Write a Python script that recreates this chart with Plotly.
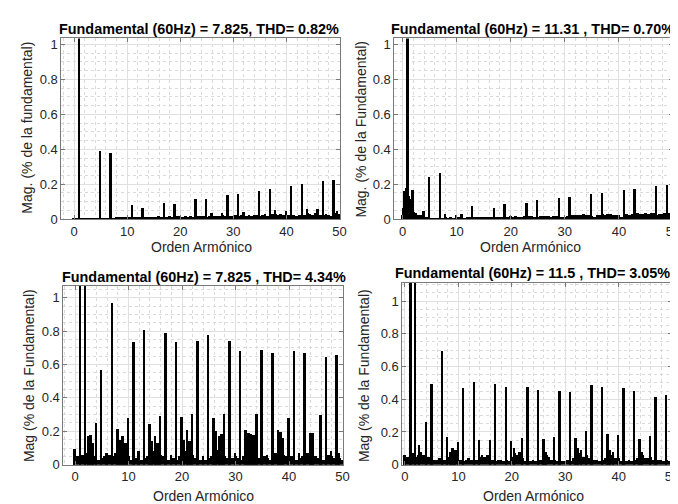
import numpy as np
import plotly.graph_objects as go

# ---------------- data (harmonic order vs magnitude, % of fundamental) ----------------
titles = [
    "Fundamental (60Hz) = 7.825, THD= 0.82%",
    "Fundamental (60Hz) = 11.31 , THD= 0.70%",
    "Fundamental (60Hz) = 7.825 , THD= 4.34%",
    "Fundamental (60Hz) = 11.5 , THD= 3.05%",
]
ylabels = [
    "Mag. (% de la fundamental)",
    "Mag. (% de la Fundamental)",
    "Mag (% de la Fundamental)",
    "Mag (% de la Fundamental)",
]
xlabel = "Orden Armónico"

# base (noise floor) sampled every 0.5 harmonic order, 0..50
base_tl = [0.004, 0.002, 0.002, 0.002, 0.003, 0.002, 0.002, 0.002, 0.003, 0.002,
           0.003, 0.002, 0.002, 0.003, 0.003, 0.004, 0.006, 0.005, 0.006, 0.005,
           0.007, 0.005, 0.006, 0.006, 0.007, 0.005, 0.008, 0.012, 0.010, 0.008,
           0.012, 0.010, 0.013, 0.008, 0.010, 0.012, 0.015, 0.008, 0.010, 0.014,
           0.018, 0.012, 0.015, 0.012, 0.016, 0.010, 0.012, 0.015, 0.015, 0.018,
           0.012, 0.016, 0.020, 0.016, 0.018, 0.014, 0.022, 0.016, 0.012, 0.018,
           0.016, 0.020, 0.015, 0.022, 0.025, 0.018, 0.020, 0.016, 0.024, 0.020,
           0.016, 0.022, 0.025, 0.018, 0.020, 0.025, 0.028, 0.022, 0.026, 0.024,
           0.030, 0.020, 0.024, 0.022, 0.016, 0.024, 0.028, 0.024, 0.030, 0.028,
           0.024, 0.032, 0.035, 0.024, 0.024, 0.028, 0.020, 0.018, 0.028, 0.035,
           0.025]
base_tr = [0.020, 0.140, 0.150, 0.100, 0.030, 0.030, 0.020, 0.020, 0.020, 0.005,
           0.004, 0.003, 0.003, 0.004, 0.004, 0.003, 0.008, 0.004, 0.005, 0.004,
           0.006, 0.005, 0.006, 0.004, 0.005, 0.006, 0.008, 0.006, 0.007, 0.008,
           0.007, 0.009, 0.010, 0.008, 0.009, 0.008, 0.010, 0.012, 0.010, 0.012,
           0.013, 0.012, 0.014, 0.010, 0.012, 0.013, 0.012, 0.014, 0.013, 0.012,
           0.012, 0.014, 0.016, 0.013, 0.015, 0.012, 0.014, 0.013, 0.010, 0.012,
           0.010, 0.018, 0.020, 0.022, 0.020, 0.024, 0.022, 0.025, 0.020, 0.022,
           0.018, 0.012, 0.020, 0.022, 0.025, 0.024, 0.026, 0.025, 0.022, 0.024,
           0.020, 0.012, 0.022, 0.025, 0.022, 0.026, 0.028, 0.030, 0.028, 0.025,
           0.030, 0.028, 0.032, 0.030, 0.020, 0.025, 0.028, 0.030, 0.035, 0.030,
           0.030]
base_bl = [0.05, 0.05, 0.04, 0.06, 0.07, 0.08, 0.06, 0.05, 0.04, 0.03,
           0.04, 0.05, 0.06, 0.06, 0.05, 0.07, 0.08, 0.10, 0.09, 0.07,
           0.05, 0.03, 0.04, 0.04, 0.05, 0.03, 0.04, 0.05, 0.06, 0.08,
           0.09, 0.08, 0.06, 0.05, 0.04, 0.03, 0.04, 0.04, 0.03, 0.05,
           0.06, 0.08, 0.10, 0.08, 0.06, 0.04, 0.03, 0.03, 0.04, 0.03,
           0.04, 0.05, 0.07, 0.09, 0.07, 0.06, 0.05, 0.04, 0.03, 0.04,
           0.05, 0.04, 0.03, 0.05, 0.07, 0.09, 0.08, 0.06, 0.05, 0.04,
           0.04, 0.05, 0.04, 0.03, 0.05, 0.07, 0.09, 0.08, 0.06, 0.05,
           0.04, 0.05, 0.04, 0.03, 0.04, 0.05, 0.06, 0.07, 0.08, 0.06,
           0.05, 0.04, 0.04, 0.03, 0.05, 0.06, 0.05, 0.04, 0.03, 0.04,
           0.03]
base_br = [0.02, 0.05, 0.06, 0.07, 0.05, 0.06, 0.08, 0.06, 0.04, 0.05,
           0.04, 0.03, 0.03, 0.04, 0.04, 0.03, 0.05, 0.07, 0.08, 0.09,
           0.06, 0.03, 0.02, 0.03, 0.04, 0.03, 0.02, 0.03, 0.05, 0.06,
           0.05, 0.06, 0.04, 0.03, 0.02, 0.03, 0.03, 0.02, 0.03, 0.02,
           0.05, 0.07, 0.06, 0.08, 0.04, 0.02, 0.03, 0.02, 0.03, 0.02,
           0.03, 0.03, 0.05, 0.06, 0.05, 0.03, 0.03, 0.02, 0.03, 0.02,
           0.02, 0.03, 0.02, 0.04, 0.08, 0.07, 0.06, 0.05, 0.06, 0.04,
           0.04, 0.03, 0.03, 0.02, 0.03, 0.04, 0.06, 0.06, 0.05, 0.04,
           0.04, 0.02, 0.02, 0.02, 0.03, 0.02, 0.03, 0.04, 0.05, 0.06,
           0.04, 0.04, 0.05, 0.03, 0.02, 0.03, 0.03, 0.02, 0.03, 0.02,
           0.02]

# harmonic spikes
orders_tl = [1, 5, 7, 11, 13, 17, 19, 23, 25, 29, 31, 35, 37, 41, 43, 47, 49,
             26, 28, 32, 38, 40, 44, 46, 49.6]
mags_tl = [100, 0.389, 0.378, 0.080, 0.062, 0.088, 0.084, 0.110, 0.114, 0.136, 0.142,
           0.161, 0.170, 0.187, 0.196, 0.215, 0.219,
           0.030, 0.032, 0.040, 0.050, 0.045, 0.055, 0.055, 0.045]

orders_tr = [0.25, 0.5, 0.75, 1.0, 1.25, 1.5, 1.75, 2.0, 2.25, 4.0, 5, 7, 8, 10, 11,
             13, 17, 19, 23, 25, 29, 31, 35, 37, 41, 43, 47, 49]
mags_tr = [0.06, 0.16, 0.175, 100, 0.13, 0.11, 0.06, 0.165, 0.04, 0.045, 0.236, 0.262,
           0.025, 0.022, 0.025, 0.075, 0.062, 0.084, 0.090, 0.108, 0.118, 0.125,
           0.144, 0.148, 0.164, 0.170, 0.187, 0.193]

orders_bl = [0, 1, 2, 2.5, 3, 3.5, 4, 5, 6, 7, 8, 8.5, 9, 9.5, 10, 11, 12, 13, 14,
             14.5, 15, 15.5, 16, 17, 18, 19, 20, 20.5, 21, 21.5, 22, 23, 24, 25, 26,
             26.5, 27, 27.5, 28, 29, 30, 31, 32, 32.5, 33, 33.5, 34, 35, 36, 37, 38,
             38.5, 39, 40, 41, 42, 43, 44, 44.5, 46, 47, 48, 49, 49.5]
mags_bl = [0.094, 100, 100, 0.17, 0.18, 0.13, 0.25, 0.565, 0.07, 0.967, 0.216, 0.15,
           0.17, 0.13, 0.28, 0.735, 0.08, 0.806, 0.245, 0.14, 0.17, 0.13, 0.294,
           0.786, 0.06, 0.735, 0.284, 0.15, 0.21, 0.14, 0.304, 0.74, 0.05, 0.775,
           0.28, 0.20, 0.17, 0.185, 0.304, 0.74, 0.07, 0.68, 0.21, 0.19, 0.185, 0.18,
           0.304, 0.686, 0.06, 0.668, 0.21, 0.195, 0.16, 0.28, 0.678, 0.07, 0.668,
           0.19, 0.19, 0.30, 0.643, 0.08, 0.657, 0.07]

orders_br = [0, 1.1, 2, 2.75, 4, 5.07, 7.05, 8, 8.5, 9, 9.5, 10, 11, 13, 14, 16, 17,
             19, 20, 20.5, 22, 23, 25, 26, 26.5, 28, 29, 31, 32, 32.5, 33, 34, 35,
             37, 38, 38.5, 39, 40, 41, 43, 44, 44.5, 46, 47, 49]
mags_br = [0.06, 100, 100, 0.12, 0.26, 0.49, 0.692, 0.17, 0.08, 0.10, 0.09, 0.14,
           0.47, 0.506, 0.15, 0.15, 0.496, 0.476, 0.144, 0.10, 0.164, 0.476, 0.456,
           0.156, 0.08, 0.17, 0.452, 0.442, 0.166, 0.10, 0.09, 0.204, 0.486, 0.472,
           0.186, 0.09, 0.08, 0.18, 0.466, 0.452, 0.156, 0.08, 0.174, 0.412, 0.426]

x_ticks = [0, 10, 20, 30, 40, 50]
y_ticks = [0, 0.2, 0.4, 0.6, 0.8, 1]

# ---------------- layout geometry ----------------
W, H = 678, 504
def px(x):
    return x / W
def py(y):
    return 1 - y / H

panels = [
    dict(base=base_tl, orders=orders_tl, mags=mags_tl,
         xd=[px(53), px(335)], yd=[py(214), py(30)], xr=[-2.4, 50.1], yr=[0, 1.034],
         tpos=(192, 20.5), xl=(195, 242), yl=(18, 121)),
    dict(base=base_tr, orders=orders_tr, mags=mags_tr,
         xd=[px(390), px(672)], yd=[py(214), py(30)], xr=[-1.5, 50.0], yr=[0, 1.034],
         tpos=(530, 20), xl=(528, 242), yl=(356, 122)),
    dict(base=base_bl, orders=orders_bl, mags=mags_bl,
         xd=[px(55), px(338)], yd=[py(464), py(282)], xr=[-2.2, 50.1], yr=[0, 1.07],
         tpos=(197, 273), xl=(197, 496), yl=(21, 373)),
    dict(base=base_br, orders=orders_br, mags=mags_br,
         xd=[px(398), px(671)], yd=[py(464), py(279)], xr=[-0.5, 50.0], yr=[0, 1.11],
         tpos=(530, 268.5), xl=(531, 495.5), yl=(360, 373)),
]

base_orders = np.arange(0, 50.001, 0.5)
FONT = "Liberation Sans, Arial, sans-serif"
TICKC = "#262626"

fig = go.Figure()
layout = dict(width=W, height=H, margin=dict(l=0, r=0, t=0, b=0),
              paper_bgcolor="white", plot_bgcolor="white", showlegend=False,
              barmode="overlay", bargap=0, font=dict(family=FONT, size=13, color=TICKC))
annotations = []
for i, p in enumerate(panels):
    n = "" if i == 0 else str(i + 1)
    xa, ya = "x" + n, "y" + n
    fig.add_trace(go.Bar(x=base_orders, y=p["base"], width=0.5, xaxis=xa, yaxis=ya,
                         marker=dict(color="black", line=dict(width=0)), hoverinfo="skip"))
    fig.add_trace(go.Bar(x=p["orders"], y=p["mags"], width=0.36, xaxis=xa, yaxis=ya,
                         marker=dict(color="black", line=dict(width=0)), hoverinfo="skip"))
    common = dict(showgrid=True, gridcolor="#e0e0e0", gridwidth=1, zeroline=False,
                  showline=True, mirror="ticks", linecolor="#7a7a7a", linewidth=1,
                  ticks="inside", ticklen=4, tickcolor="#7a7a7a",
                  tickfont=dict(family=FONT, size=13, color=TICKC), fixedrange=True)
    layout["xaxis" + n] = dict(domain=p["xd"], range=p["xr"], anchor=ya,
                               tickvals=x_ticks, ticktext=[str(v) for v in x_ticks],
                               minor=dict(dtick=2, tick0=0, showgrid=True, griddash="dot",
                                          gridcolor="#dadada", gridwidth=1),
                               **common)
    layout["yaxis" + n] = dict(domain=p["yd"], range=p["yr"], anchor=xa,
                               tickvals=y_ticks, ticktext=["0", "0.2", "0.4", "0.6", "0.8", "1"],
                               minor=dict(dtick=0.05, tick0=0, showgrid=True, griddash="dot",
                                          gridcolor="#dadada", gridwidth=1),
                               **common)
    annotations.append(dict(text="<b>" + titles[i] + "</b>", x=px(p["tpos"][0]), y=py(p["tpos"][1]),
                            xref="paper", yref="paper", showarrow=False, xanchor="center",
                            yanchor="middle", font=dict(family=FONT, size=14.4, color="black")))
    annotations.append(dict(text=xlabel, x=px(p["xl"][0]), y=py(p["xl"][1]),
                            xref="paper", yref="paper", showarrow=False, xanchor="center",
                            yanchor="middle", font=dict(family=FONT, size=14, color=TICKC)))
    annotations.append(dict(text=ylabels[i], x=px(p["yl"][0]), y=py(p["yl"][1]),
                            xref="paper", yref="paper", showarrow=False, xanchor="center",
                            yanchor="middle", textangle=-90,
                            font=dict(family=FONT, size=14, color=TICKC)))
layout["annotations"] = annotations
fig.update_layout(**layout)
fig.write_html("out.html")
